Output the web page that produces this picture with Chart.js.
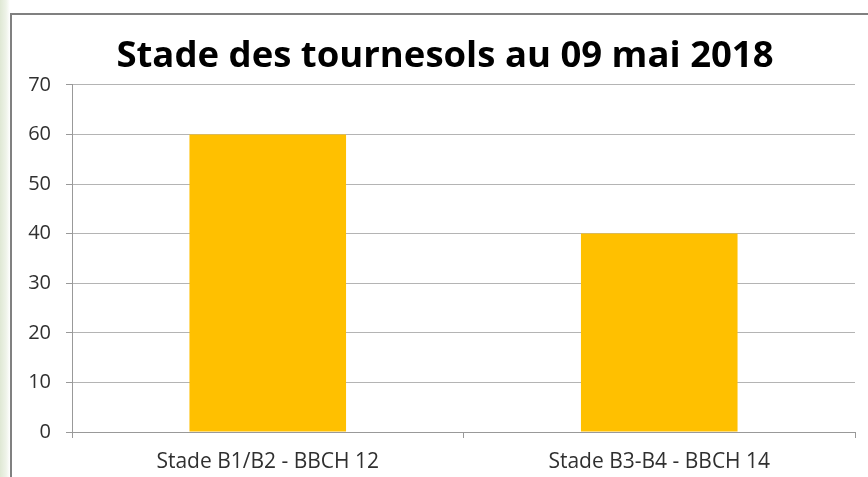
<!DOCTYPE html>
<html>
<head>
<meta charset="utf-8">
<script src="https://cdn.jsdelivr.net/npm/chart.js@4/dist/chart.umd.min.js"></script>
<style>
    html, body { margin: 0; padding: 0; }
    body {
        width: 868px; height: 477px; overflow: hidden; position: relative;
        background: linear-gradient(90deg, #dfe8d4 0px, #eef3e8 6px, #ffffff 10px);
    }
    #frame {
        position: absolute; left: 10px; top: 13px; width: 870px; height: 480px;
        border: 2px solid #808080; background: #ffffff;
    }
    #wrap { position: absolute; left: 0; top: 0; width: 868px; height: 477px; }
</style>
</head>
<body>
<div id="frame"></div>
<div id="wrap"><canvas id="chart"></canvas></div>
<script>
// Stade des tournesols
const categories = ['Stade B1/B2 - BBCH 12', 'Stade B3-B4 - BBCH 14'];
const values = [60, 40];
const yTicks = [0, 10, 20, 30, 40, 50, 60, 70];

const fontFamily = '"Open Sans", sans-serif';

// nudge the title box so it is centred like the original (x ~ 445)
const titleShift = {
    id: 'titleShift',
    afterLayout(chart) {
        if (chart.titleBlock) chart.titleBlock.left += 15;
    }
};

new Chart(document.getElementById('chart'), {
    type: 'bar',
    data: {
        labels: categories,
        datasets: [{
            data: values,
            backgroundColor: '#ffc000',
            borderWidth: 0,
            categoryPercentage: 1.0,
            barPercentage: 0.4
        }]
    },
    options: {
        responsive: true,
        maintainAspectRatio: false,
        animation: false,
        layout: { padding: { left: 20, right: 13, top: 35, bottom: 3 } },
        plugins: {
            legend: { display: false },
            tooltip: { enabled: false },
            title: {
                display: true,
                text: 'Stade des tournesols au 09 mai 2018',
                color: '#000000',
                font: { family: fontFamily, size: 36.5, weight: 'bold' },
                padding: { top: 0, bottom: 6 }
            }
        },
        scales: {
            x: {
                offset: true,
                afterFit: function(scale) { scale.height = 42; },
                grid: {
                    offset: true,
                    drawOnChartArea: false,
                    tickLength: 6,
                    tickColor: '#999999'
                },
                border: { color: '#999999', width: 1 },
                ticks: { color: '#303030', font: { family: fontFamily, size: 21 }, padding: 11 }
            },
            y: {
                min: 0,
                max: 70,
                afterFit: function(scale) { scale.width = 52; },
                afterBuildTicks: function(scale) {
                    scale.ticks = yTicks.map(v => ({ value: v }));
                },
                grid: {
                    color: '#b4b4b4',
                    borderDash: [2, 1],
                    tickLength: 6,
                    tickColor: '#999999',
                    tickBorderDash: []
                },
                border: { color: '#999999', width: 1 },
                ticks: { color: '#303030', font: { family: fontFamily, size: 20 }, padding: 15 }
            }
        }
    },
    plugins: [titleShift]
});
</script>
</body>
</html>
